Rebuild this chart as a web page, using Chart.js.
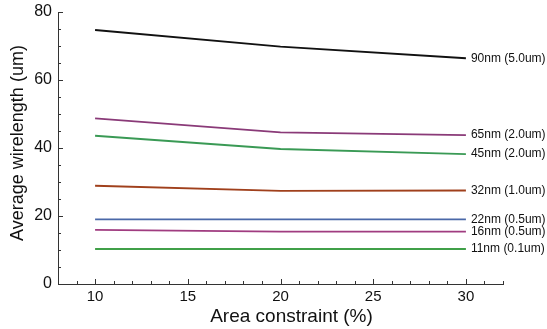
<!DOCTYPE html>
<html>
<head>
<meta charset="utf-8">
<script src="https://cdn.jsdelivr.net/npm/chart.js@4/dist/chart.umd.min.js"></script>
<style>
html,body{margin:0;padding:0;background:#fff;}
#wrap{width:547px;height:329px;position:relative;}
</style>
</head>
<body>
<div id="wrap"><canvas id="c" width="547" height="329"></canvas></div>
<script>
// data
const areas=[10,20,30];
const names=['90nm (5.0um)','65nm (2.0um)','45nm (2.0um)','32nm (1.0um)','22nm (0.5um)','16nm (0.5um)','11nm (0.1um)'];
const v90=[74.7,69.8,66.4];
const v65=[48.7,44.6,43.8];
const v45=[43.6,39.7,38.2];
const v32=[28.9,27.4,27.5];
const v22=[19.0,19.0,19.0];
const v16=[15.9,15.4,15.4];
const v11=[10.3,10.3,10.3];
const colors=['#111111','#8a3a78','#3a9a55','#a0401c','#4a68a8','#a03c80','#40a048'];
const series=[v90,v65,v45,v32,v22,v16,v11];
const xTitle='Area constraint (%)',yTitle='Average wirelength (um)';

const FONT='"Liberation Sans", Arial, sans-serif';

const tickPlugin={
  id:'tickMarks',
  afterDraw(chart){
    const ctx=chart.ctx,x=chart.scales.x,y=chart.scales.y;
    ctx.save();ctx.strokeStyle='#333';ctx.lineWidth=1;
    for(let v=8;v<=32;v++){
      const px=Math.round(x.getPixelForValue(v))+0.5,len=v%5===0?5:3;
      ctx.beginPath();ctx.moveTo(px,y.bottom);ctx.lineTo(px,y.bottom-len);ctx.stroke();
    }
    for(let v=0;v<=80;v+=5){
      const py=Math.round(y.getPixelForValue(v))+0.5,len=v%20===0?5:3;
      ctx.beginPath();ctx.moveTo(x.left,py);ctx.lineTo(x.left+len,py);ctx.stroke();
    }
    // series labels at the right end of each line
    ctx.fillStyle='#111';ctx.font='12px '+FONT;ctx.textBaseline='middle';ctx.textAlign='left';
    chart.data.datasets.forEach(ds=>{
      const last=ds.data[ds.data.length-1];
      ctx.fillText(ds.label,x.getPixelForValue(last.x)+5,y.getPixelForValue(last.y));
    });
    // axis titles (sit a bit off-centre in the original)
    ctx.textAlign='center';
    ctx.font='19px '+FONT;
    ctx.fillText(xTitle,(x.left+x.right)/2+11,317);
    ctx.translate(18.5,(y.top+y.bottom)/2-5);ctx.rotate(-Math.PI/2);
    ctx.font='18px '+FONT;
    ctx.fillText(yTitle,0,0);
    ctx.restore();
  }
};

new Chart(document.getElementById('c'),{
  type:'line',
  data:{datasets:series.map((s,i)=>({
    label:names[i],
    data:areas.map((a,j)=>({x:a,y:s[j]})),
    borderColor:colors[i],borderWidth:1.8,pointRadius:0,tension:0,fill:false
  }))},
  options:{
    responsive:false,animation:false,
    layout:{padding:{top:12,right:44,left:0,bottom:0}},
    plugins:{legend:{display:false},tooltip:{enabled:false}},
    scales:{
      x:{type:'linear',min:8,max:32,
        afterFit:s=>{s.height=45;s.paddingLeft=0;s.paddingRight=0;},
        grid:{display:false,drawTicks:false},
        border:{display:true,color:'#333',width:1},
        ticks:{stepSize:5,padding:4,color:'#111',font:{family:FONT,size:15},
          callback:v=>v%5===0&&v>=10&&v<=30?v:''}
      },
      y:{min:0,max:80,
        afterFit:s=>{s.width=58;s.paddingTop=0;s.paddingBottom=0;},
        grid:{display:false,drawTicks:false},
        border:{display:true,color:'#333',width:1},
        ticks:{stepSize:20,padding:6,color:'#111',font:{family:FONT,size:16}}
      }
    }
  },
  plugins:[tickPlugin]
});
</script>
</body>
</html>
